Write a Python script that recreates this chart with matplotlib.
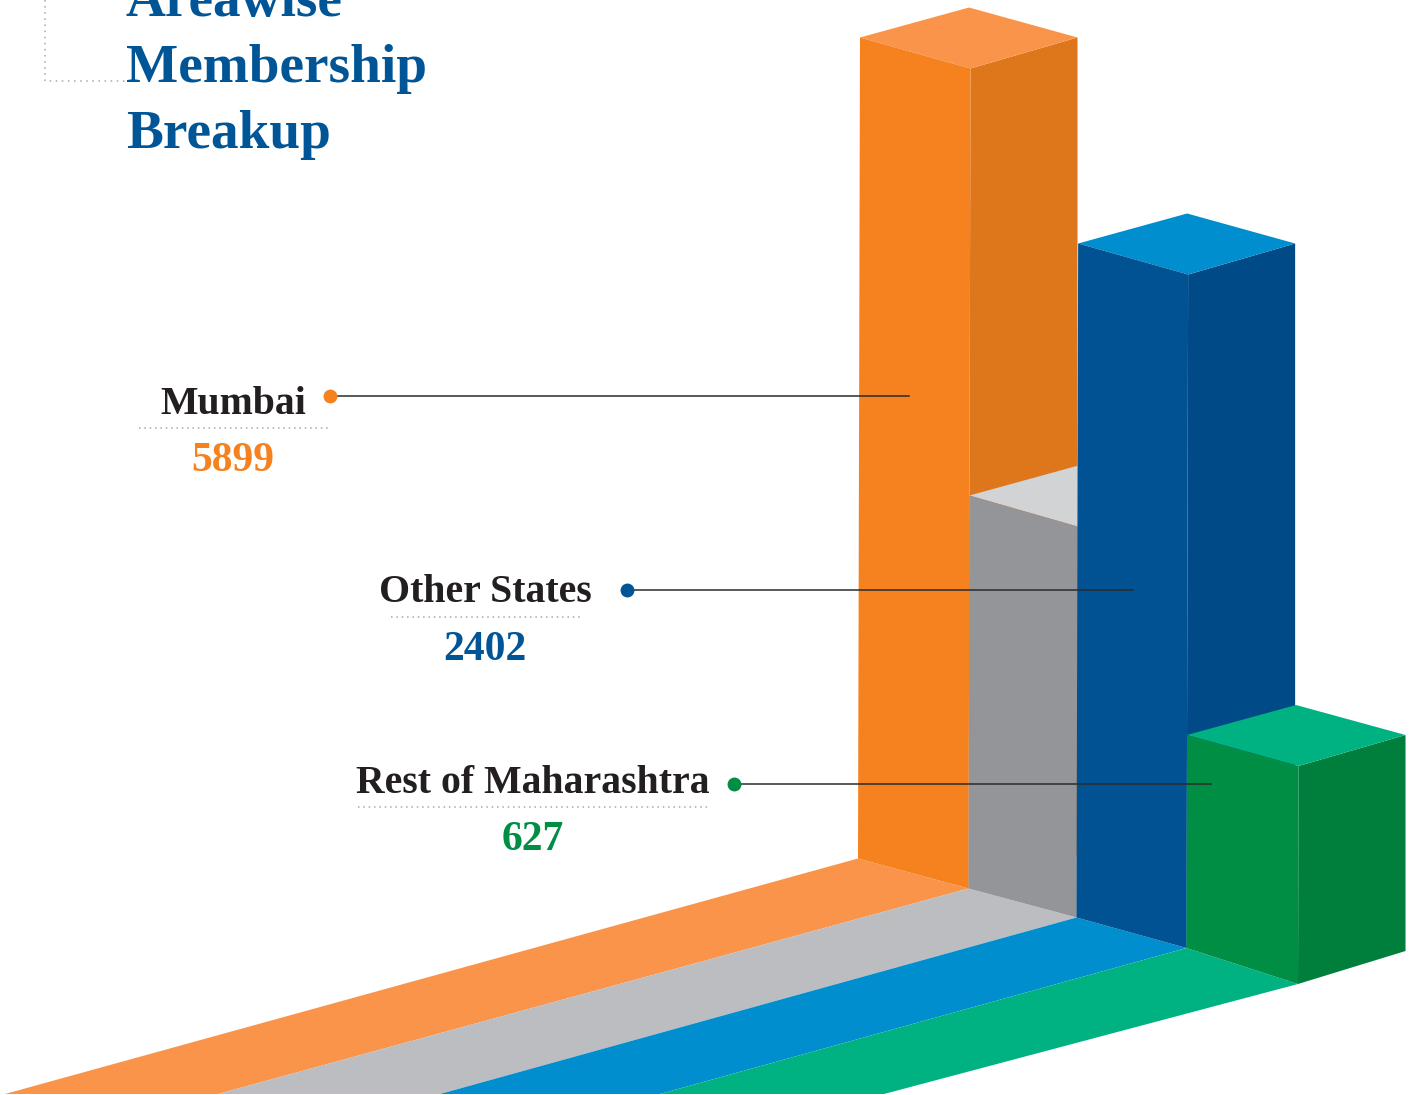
import matplotlib
matplotlib.use("Agg")
import matplotlib.pyplot as plt
from matplotlib.patches import Polygon

# ---- data ----
title_lines = ["Areawise", "Membership", "Breakup"]
categories = ["Mumbai", "Other States", "Rest of Maharashtra"]
values = ["5899", "2402", "627"]
value_colors = ["#F6821F", "#005596", "#008D44"]

# drawn height of each column (the artwork is not proportional to the values);
# the second column is the unlabelled grey filler
column_heights = [821, 393, 674, 213]
front_colors = ["#F6821F", "#939598", "#005292", "#008D44"]
side_colors = ["#DE771B", "#939598", "#004B87", "#007F3C"]
top_colors = ["#F9944A", "#D1D3D4", "#008ECE", "#00B281"]
floor_colors = ["#F9944A", "#BBBDC0", "#008ECE", "#00B281"]

# ---- layout of the isometric scene (pixels) ----
W, H = 1410, 1095
base_x = [858, 968.5, 1076.5, 1186.5, 1298]
base_y = [858.5, 888.5, 917.5, 948, 984]
floor_end_x = [5, 218, 440, 660, 884]
FLOOR_Y = 1094
TOP_DROP = 31
MAX_H = max(column_heights)

fig = plt.figure(figsize=(W / 100, H / 100), dpi=100, facecolor="white")
ax = fig.add_axes([0, 0, 1, 1])
ax.set_xlim(0, W)
ax.set_ylim(H, 0)
ax.axis("off")


def face(points, color, z):
    ax.add_patch(Polygon(points, closed=True, facecolor=color, edgecolor="none", zorder=z))


# floor strips
for i, c in enumerate(floor_colors):
    face([(base_x[i], base_y[i]), (base_x[i + 1], base_y[i + 1]),
          (floor_end_x[i + 1], FLOOR_Y), (floor_end_x[i], FLOOR_Y)], c, 1)

# columns, back to front
for i, h in enumerate(column_heights):
    z = 2 + i
    lean = 2 * h / MAX_H
    x0, x1 = base_x[i], base_x[i + 1]
    y0, y1 = base_y[i], base_y[i + 1]
    tl = (x0 + lean, y0 - h)
    tf = (x1 + lean, y0 - h + TOP_DROP)
    back_x = tf[0] + 107
    tr = (back_x, tf[1] - 31)
    tb = (tl[0] + 109, tl[1] - 30)
    br = (back_x, y1 - 33)
    face([tf, tr, br, (x1, y1)], side_colors[i], z)
    face([tl, tb, tr, tf], top_colors[i], z)
    face([tl, tf, (x1, y1), (x0, y0)], front_colors[i], z)

# title and its dotted corner
ser = ["Liberation Serif", "DejaVu Serif"]
blue = "#005596"
for line, base in zip(title_lines, [16, 82, 148]):
    ax.text(126, base, line, family=ser, fontsize=39.8, weight="bold", color=blue,
            va="baseline", ha="left", zorder=10)
ax.plot([45, 45, 127], [0, 81, 81], color="#A8A8A8", lw=1.1, ls=(0, (1, 3)), zorder=9)

# callouts
label_x = [233, 485, 533]
label_y = [414, 602, 793]
value_y = [471, 660, 850]
rule_x = [(139, 328), (391, 580), (358, 708)]
rule_y = [428, 617, 807]
dot_x = [329.5, 627, 733.5]
dot_y = [395.5, 589.5, 783.5]
line_end = [908.5, 1132.5, 1210.5]
ink = "#231F20"
for i, name in enumerate(categories):
    ax.text(label_x[i], label_y[i], name, family=ser, fontsize=28.6, weight="bold", color=ink,
            ha="center", va="baseline", zorder=10)
    ax.text(label_x[i], value_y[i], values[i], family=ser, fontsize=30, weight="bold",
            color=value_colors[i], ha="center", va="baseline", zorder=10)
    ax.plot(rule_x[i], [rule_y[i]] * 2, color="#A8A8A8", lw=1.1, ls=(0, (1, 2.5)), zorder=9)
    ax.plot([dot_x[i], line_end[i]], [dot_y[i]] * 2, color="#2B2B2B", lw=1.1, zorder=9)
    ax.plot(dot_x[i], dot_y[i], "o", ms=10, color=value_colors[i], mec="none", zorder=10)

fig.savefig("out.png", dpi=100, facecolor="white")
